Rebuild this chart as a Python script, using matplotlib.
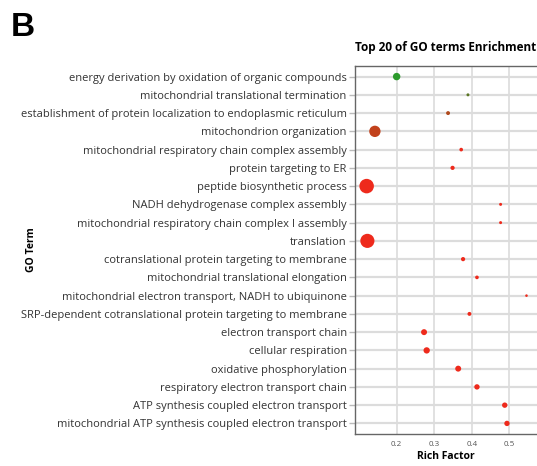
import matplotlib
matplotlib.use("Agg")
import matplotlib.pyplot as plt
from matplotlib.colors import LinearSegmentedColormap, Normalize

# GO terms, top to bottom as drawn
terms = [
    "energy derivation by oxidation of organic compounds",
    "mitochondrial translational termination",
    "establishment of protein localization to endoplasmic reticulum",
    "mitochondrion organization",
    "mitochondrial respiratory chain complex assembly",
    "protein targeting to ER",
    "peptide biosynthetic process",
    "NADH dehydrogenase complex assembly",
    "mitochondrial respiratory chain complex I assembly",
    "translation",
    "cotranslational protein targeting to membrane",
    "mitochondrial translational elongation",
    "mitochondrial electron transport, NADH to ubiquinone",
    "SRP-dependent cotranslational protein targeting to membrane",
    "electron transport chain",
    "cellular respiration",
    "oxidative phosphorylation",
    "respiratory electron transport chain",
    "ATP synthesis coupled electron transport",
    "mitochondrial ATP synthesis coupled electron transport",
]
rich_factor = [0.200, 0.390, 0.337, 0.142, 0.372, 0.349, 0.120, 0.477, 0.477, 0.122,
               0.377, 0.414, 0.546, 0.394, 0.273, 0.280, 0.364, 0.414, 0.488, 0.494]
gene_count = [25, 4, 7, 58, 6, 8, 95, 4, 4, 90, 8, 6, 3, 7, 16, 18, 16, 13, 13, 13]
neg_log_p = [2.0, 3.5, 5.6, 6.0, 9, 9, 9, 9, 9, 9, 9, 9, 9, 9, 9, 9, 9, 9, 9, 9]
x_ticks = [0.2, 0.3, 0.4, 0.5]

W, H = 537, 466
fig = plt.figure(figsize=(W / 100, H / 100), dpi=100)
ax = fig.add_axes([355 / W, 1 - 434 / H, 1 - 355 / W, (434 - 66) / H])

cmap = LinearSegmentedColormap.from_list(
    "gr", ["#2c9a2c", "#6a6a22", "#c2421c", "#ee2a1c"])
norm = Normalize(2.0, 8.0, clip=True)

ypos = list(range(len(terms)))[::-1]
ax.scatter(rich_factor, ypos, s=[c * 1.15 for c in gene_count],
           c=[cmap(norm(v)) for v in neg_log_p], edgecolors="none", zorder=3)

ax.set_xlim(0.089, 0.574)
ax.set_ylim(-0.58, len(terms) - 0.42)
ax.set_yticks(ypos)
ax.set_yticklabels(terms, fontsize=8.0, color="#333333", family="Open Sans")
ax.set_xticks(x_ticks)
ax.set_xticklabels([f"{t:.1f}" for t in x_ticks], fontsize=5.8, color="#555555",
                   family="Open Sans")
ax.tick_params(axis="x", length=0, pad=5)
ax.tick_params(axis="y", length=4, width=1, color="#bbbbbb", pad=2)

ax.grid(axis="y", color="#dcdcdc", linewidth=1.6, zorder=0)
ax.grid(axis="x", color="#dcdcdc", linewidth=1.2, zorder=0)
ax.set_axisbelow(True)
for side in ("left", "bottom", "top"):
    ax.spines[side].set_color("#666666")
    ax.spines[side].set_linewidth(1.0)
ax.spines["right"].set_visible(False)

ax.set_title("Top 20 of GO terms Enrichment", fontsize=8.5, fontweight="bold",
             family="Open Sans", pad=11)
ax.set_xlabel("Rich Factor", fontsize=7.5, fontweight="bold", family="Open Sans",
              labelpad=2)
fig.text(31 / W, 1 - 250 / H, "GO Term", rotation=90, fontsize=7.5,
         fontweight="bold", family="Open Sans", ha="center", va="center")
fig.text(11 / W, 1 - 28 / H, "B", fontsize=24, fontweight="bold",
         family="Liberation Sans", ha="left", va="center")

fig.savefig("out.png", dpi=100)
